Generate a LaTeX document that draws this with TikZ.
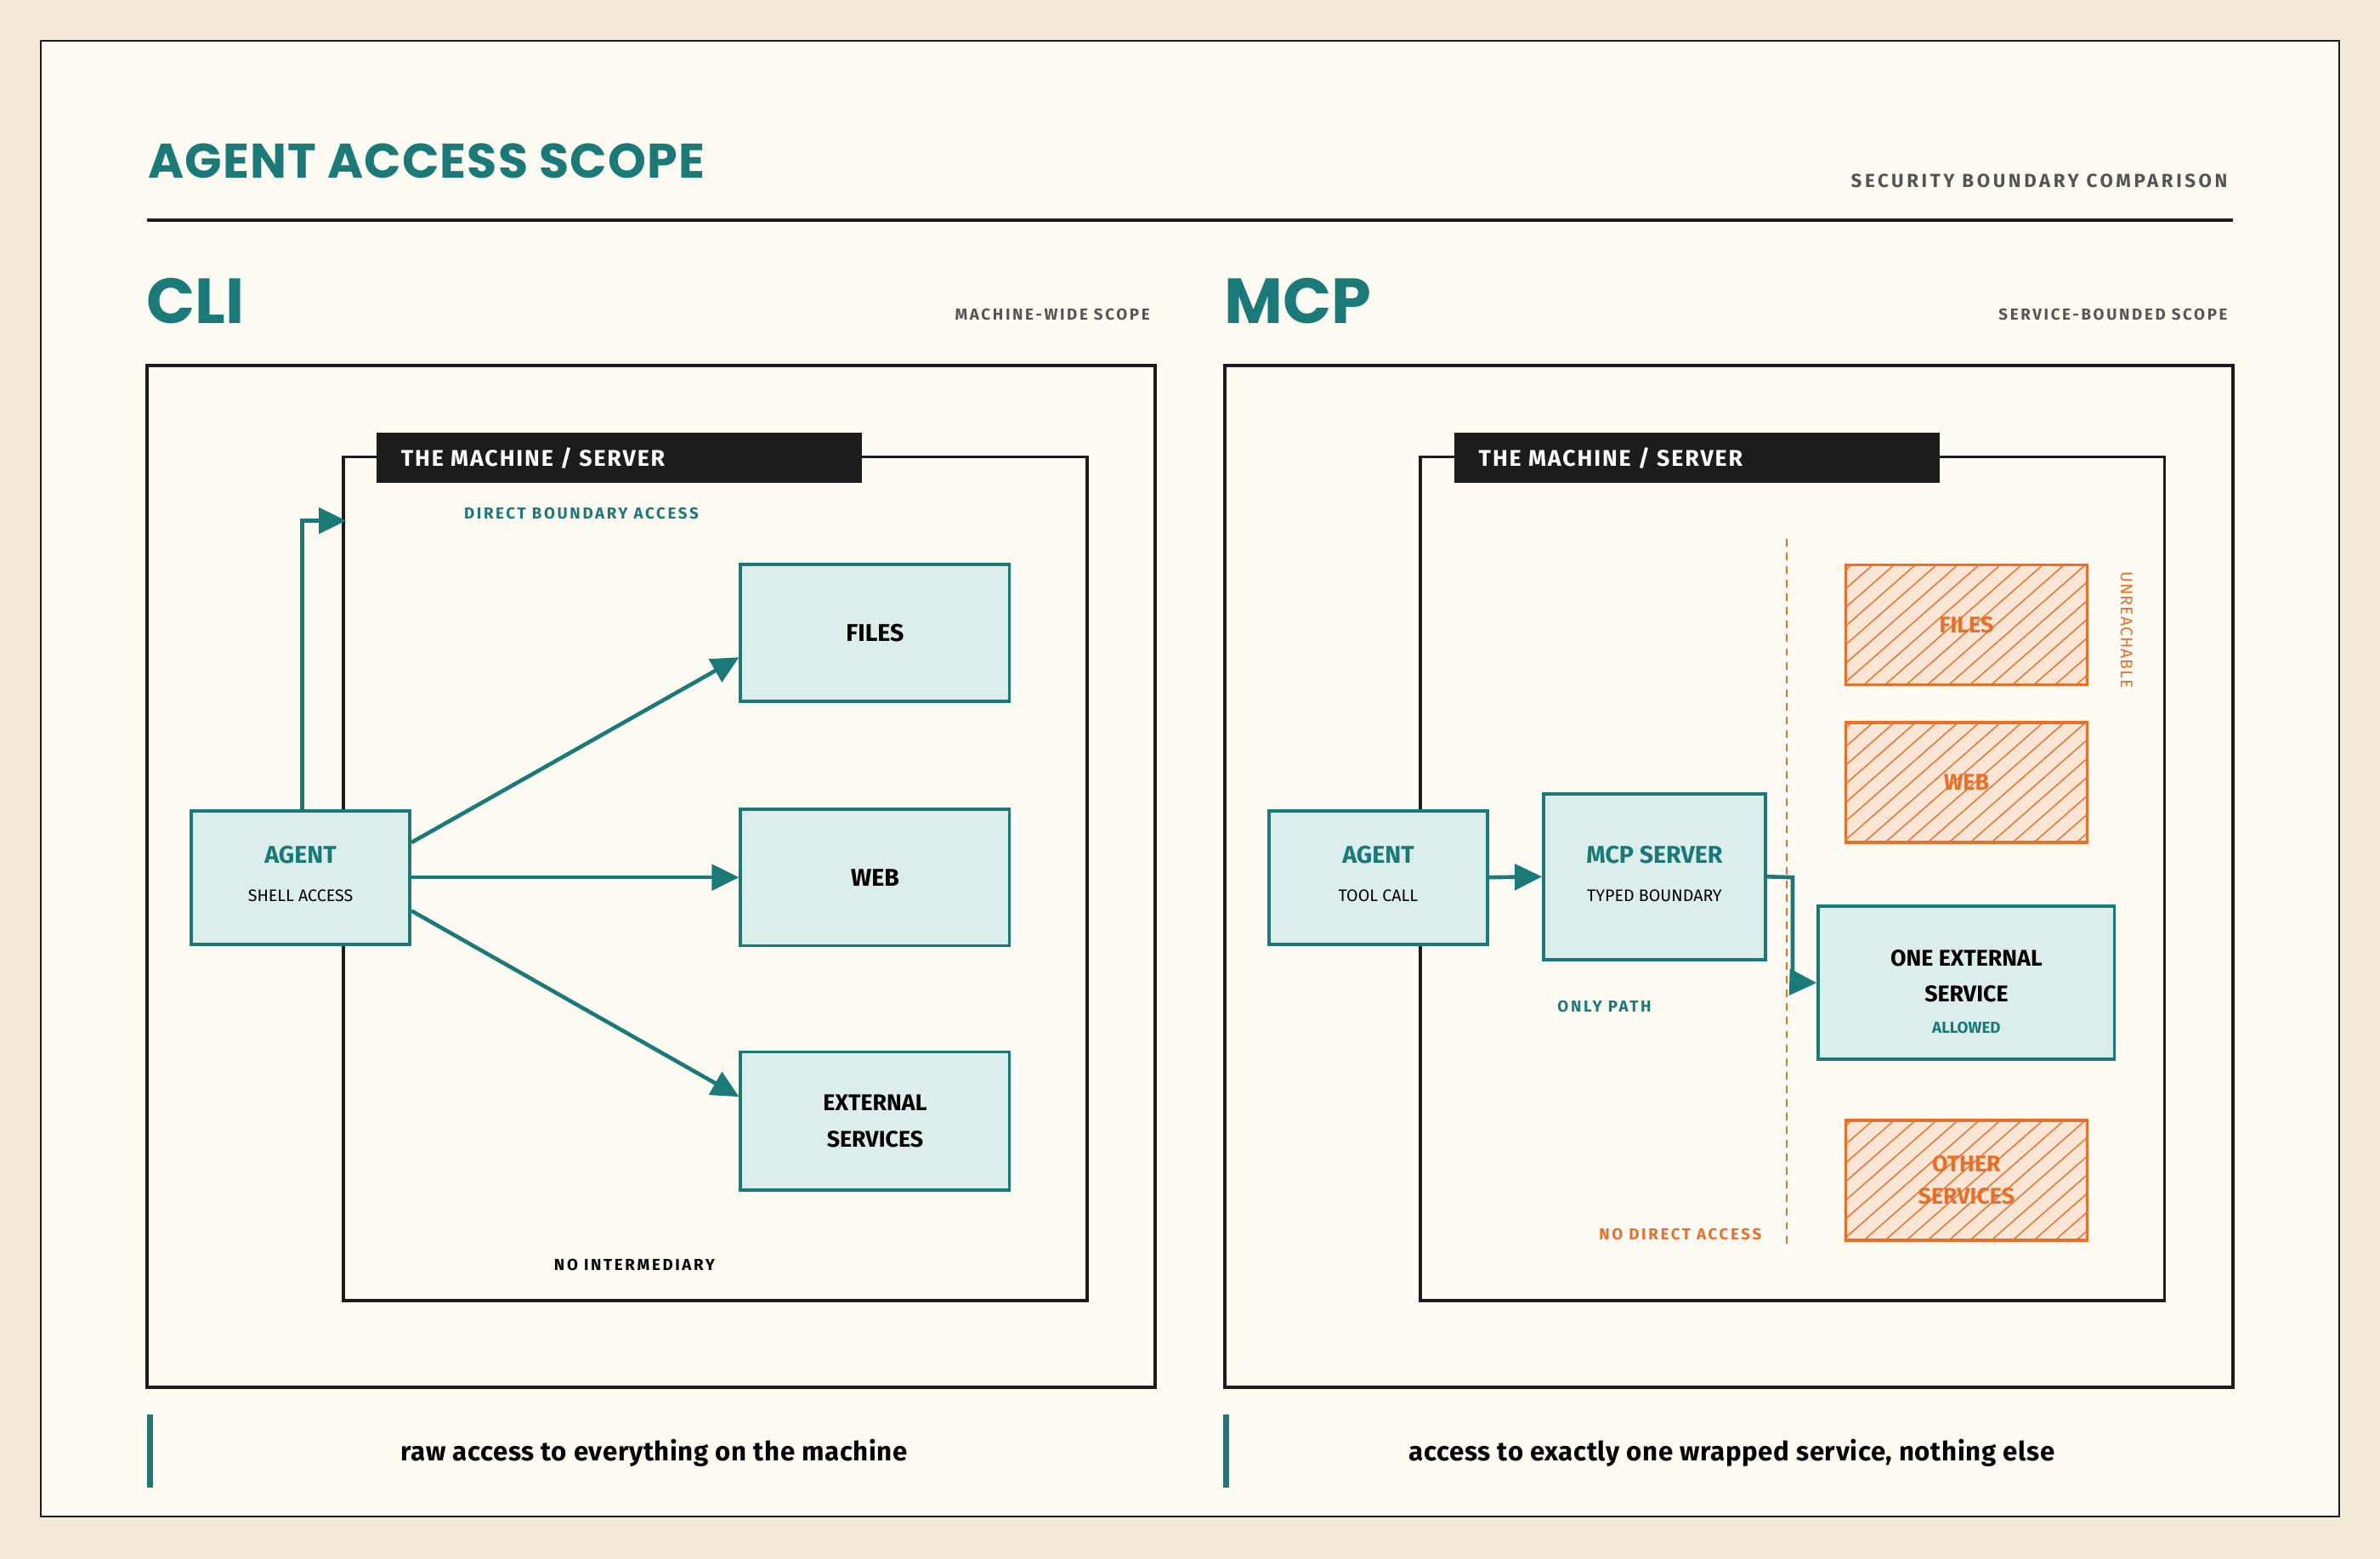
\documentclass[tikz,border=0pt]{standalone}
\usepackage{fontspec}
\setmainfont{Fira Sans}
\newfontfamily\headf{Poppins}
\usetikzlibrary{arrows.meta}
\definecolor{teal}{HTML}{1A7A78}
\definecolor{bg}{HTML}{F3EBD8}
\definecolor{paper}{HTML}{FEFBF3}
\definecolor{ink}{HTML}{1C1C1C}
\definecolor{boxf}{HTML}{DCEEEC}
\definecolor{org}{HTML}{E8702A}
\definecolor{orgf}{HTML}{FBE6D6}
\definecolor{gry}{HTML}{555555}
\begin{document}
\begin{tikzpicture}[x=1pt,y=-1pt,
  frame/.style={draw=ink,line width=2.2pt},
  tbox/.style={draw=teal,line width=2.2pt,fill=boxf},
  arr/.style={teal,line width=2.6pt,-{Triangle[length=18pt,width=17pt]}},
  small/.style={font=\fontsize{10.5}{12}\selectfont\bfseries\addfontfeature{LetterSpace=14}},
  lbl/.style={font=\fontsize{16}{20}\selectfont\bfseries},
  bar/.style={text=white,font=\fontsize{15}{17}\selectfont\bfseries\addfontfeature{LetterSpace=7},inner sep=0pt,anchor=west}]
\useasboundingbox (0,0) rectangle (1568,1027);
\fill[bg] (0,0) rectangle (1568,1027);
\draw[fill=paper,draw=ink,line width=1.2pt] (27,27) rectangle (1541,999);
\node[anchor=west,teal,font=\headf\fontsize{32}{34}\selectfont\bfseries\addfontfeature{LetterSpace=2}] (title) at (94,106) {AGENT ACCESS SCOPE};
\node[anchor=east,gry,font=\fontsize{12.5}{14}\selectfont\bfseries\addfontfeature{LetterSpace=16}] (sub) at (1471,119) {SECURITY BOUNDARY COMPARISON};
\draw[ink,line width=2.2pt] (97,145) -- (1471,145);
\node[anchor=west,teal,font=\headf\fontsize{42}{46}\selectfont\bfseries] (cli) at (93,198) {CLI};
\node[anchor=east,gry,small] (cs) at (761,207) {MACHINE-WIDE SCOPE};
\node[anchor=west,teal,font=\headf\fontsize{42}{46}\selectfont\bfseries] (mcp) at (803,198) {MCP};
\node[anchor=east,gry,small] (ms) at (1471,207) {SERVICE-BOUNDED SCOPE};
% panels
\draw[frame] (97,241) rectangle (761,914);
\draw[frame] (807,241) rectangle (1471,914);
\draw[frame] (226,301) rectangle (716,857);
\draw[frame] (936,301) rectangle (1426,857);
\fill[ink] (248,285) rectangle (568,318);
\node[bar] (b1) at (264,302) {THE MACHINE / SERVER};
\fill[ink] (958,285) rectangle (1278,318);
\node[bar] (b2) at (974,302) {THE MACHINE / SERVER};
% CLI
\node[teal,small] (dba) at (383,338) {DIRECT BOUNDARY ACCESS};
\node[tbox,minimum width=177pt,minimum height=90pt,lbl] (files) at (576.5,417) {FILES};
\node[tbox,minimum width=177pt,minimum height=90pt,lbl] (web) at (576.5,578) {WEB};
\node[tbox,minimum width=177pt,minimum height=91pt,align=center,font=\fontsize{15}{24}\selectfont\bfseries] (ext) at (576.5,738.5) {EXTERNAL\\SERVICES};
\node[tbox,minimum width=144pt,minimum height=88pt] (agent) at (198,578) {};
\node[teal,font=\fontsize{16}{18}\selectfont\bfseries] (at) at (198,563) {AGENT};
\node[font=\fontsize{11}{12}\selectfont] (as) at (198,590) {SHELL ACCESS};
\coordinate (bnd) at (228,343);
\draw[arr] ([yshift=23pt]agent.east) -- ([yshift=-16pt]files.west);
\draw[arr] (agent.east) -- (web.west);
\draw[arr] ([yshift=-22pt]agent.east) -- ([yshift=16pt]ext.west);
\draw[arr] (199,534) -- (199,343) -- (bnd);
\node[small] (ni) at (418,833) {NO INTERMEDIARY};
% MCP
\node[tbox,minimum width=144pt,minimum height=88pt] (agent2) at (908,578) {};
\node[teal,font=\fontsize{16}{18}\selectfont\bfseries] at (908,563) {AGENT};
\node[font=\fontsize{11}{12}\selectfont] at (908,590) {TOOL CALL};
\node[tbox,minimum width=146pt,minimum height=109pt] (srv) at (1090,577.5) {};
\node[teal,font=\fontsize{16}{18}\selectfont\bfseries] at (1090,563) {MCP SERVER};
\node[font=\fontsize{11}{12}\selectfont] at (1090,590) {TYPED BOUNDARY};
\node[tbox,minimum width=195pt,minimum height=101pt] (one) at (1295.5,647.5) {};
\node[font=\fontsize{15}{16}\selectfont\bfseries] at (1295.5,631) {ONE EXTERNAL};
\node[font=\fontsize{15}{16}\selectfont\bfseries] at (1295.5,655) {SERVICE};
\node[teal,font=\fontsize{10.5}{11}\selectfont\bfseries] at (1295.5,677) {ALLOWED};
\draw[arr] (agent2.east) -- (srv.west);
\draw[arr] (srv.east) -- (1181,578) -- (1181,647) -- (one.west);
\draw[org,line width=1.3pt,dash pattern=on 5pt off 4pt] (1177,355) -- (1177,822);
\foreach \n/\ya/\yb/\t in {of/372/451/FILES,ow/476/555/WEB,oo/738/817/{OTHER\\SERVICES}}{
  \fill[orgf] (1216,\ya) rectangle (1375,\yb);
  \begin{scope}
  \clip (1216,\ya) rectangle (1375,\yb);
  \foreach \k in {-100,-86,...,260} \draw[org,line width=0.8pt] (1216+\k,\yb) -- (1216+\k+90,\ya);
  \end{scope}
  \node[draw=org,line width=2pt,minimum width=159pt,minimum height=79pt,org,align=center,font=\fontsize{15}{21}\selectfont\bfseries] (\n) at (1295.5,{(\ya+\yb)/2}) {\t};
}
\node[org,rotate=-90,font=\fontsize{11}{12}\selectfont\addfontfeature{LetterSpace=5}] (un) at (1401,415) {UNREACHABLE};
\node[teal,small] (op) at (1057,663) {ONLY PATH};
\node[org,small] (nda) at (1107,813) {NO DIRECT ACCESS};
% bottom
\draw[teal,line width=4pt] (99,932) -- (99,980);
\draw[teal,line width=4pt] (808,932) -- (808,980);
\node[font=\fontsize{17.5}{20}\selectfont\bfseries\addfontfeature{LetterSpace=2}] (c1) at (431,957) {raw access to everything on the machine};
\node[font=\fontsize{17.5}{20}\selectfont\bfseries\addfontfeature{LetterSpace=2}] (c2) at (1141,957) {access to exactly one wrapped service, nothing else};
\end{tikzpicture}
\end{document}
